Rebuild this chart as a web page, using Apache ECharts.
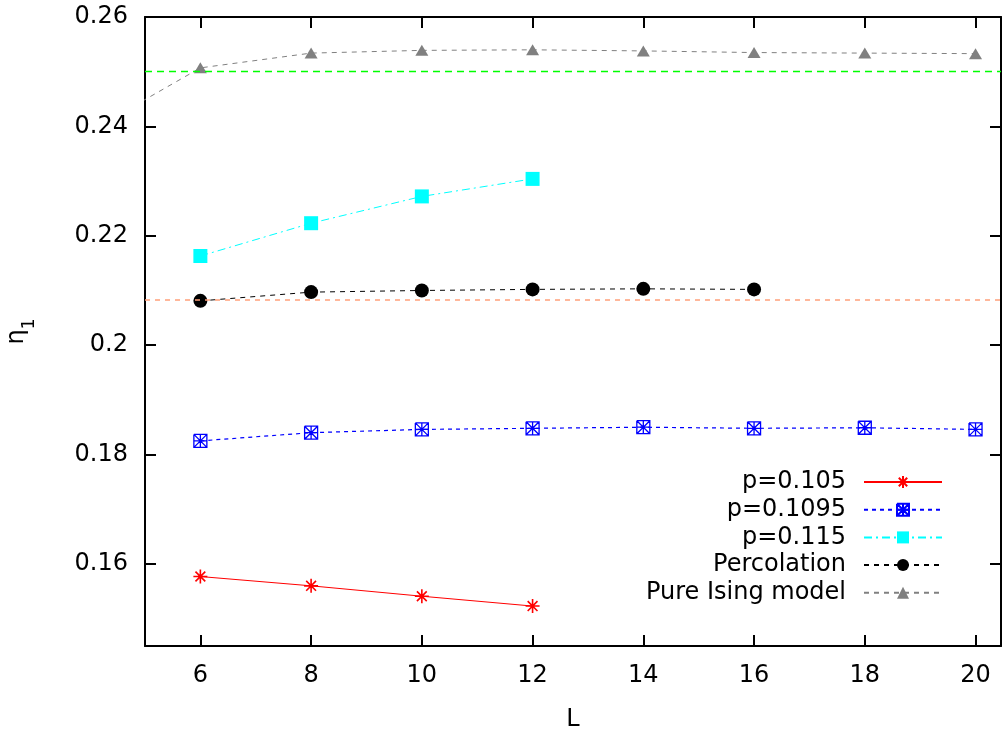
<!DOCTYPE html>
<html>
<head>
<meta charset="utf-8">
<script src="https://cdn.jsdelivr.net/npm/echarts@6/dist/echarts.min.js"></script>
<style>html,body{margin:0;padding:0;background:#fff}#c{width:1003px;height:731px}</style>
</head>
<body>
<div id="c"></div>
<script>
// ---- data ----
const xTicks = [6, 8, 10, 12, 14, 16, 18, 20];
const yTicks = [0.16, 0.18, 0.2, 0.22, 0.24, 0.26];

const L_p105 = [6, 8, 10, 12];
const eta_p105 = [0.1577, 0.1560, 0.1541, 0.1523];

const L_p1095 = [6, 8, 10, 12, 14, 16, 18, 20];
const eta_p1095 = [0.1825, 0.1840, 0.1846, 0.1848, 0.1850, 0.1848, 0.1849, 0.1846];

const L_p115 = [6, 8, 10, 12];
const eta_p115 = [0.2163, 0.2223, 0.2272, 0.2304];

const L_perc = [6, 8, 10, 12, 14, 16];
const eta_perc = [0.2081, 0.2097, 0.2100, 0.2102, 0.2103, 0.2102];

const L_ising = [4, 6, 8, 10, 12, 14, 16, 18, 20];
const eta_ising = [0.2391, 0.2507, 0.2534, 0.2539, 0.2540, 0.2538, 0.2535, 0.2534, 0.2533];

const eta_ising_exact = 0.25;
const eta_perc_exact = 0.2083;

const seriesNames = ['p=0.105', 'p=0.1095', 'p=0.115', 'Percolation', 'Pure Ising model'];

// ---- chart ----
const pairs = (xs, ys) => xs.map((x, i) => [x, ys[i]]);
const FONT = 'DejaVu Sans';
const xMin = 5, xMax = 20.46, yMin = 0.145, yMax = 0.26;

const asterisk = 'path://M0,5L10,5M5,0L5,10M1.5,1.5L8.5,8.5M8.5,1.5L1.5,8.5';
const boxAsterisk = 'path://M0,0L10,0L10,10L0,10L0,0M0,5L10,5M5,0L5,10M0,0L10,10M10,0L0,10';

const axisCommon = {
  axisLine: { show: true, onZero: false, lineStyle: { color: '#000', width: 2 } },
  splitLine: { show: false }
};

function refLine(value, color, width, dash) {
  return {
    name: 'ref' + value, type: 'line', data: [], silent: true, z: 4,
    markLine: {
      silent: true, symbol: ['none', 'none'], animation: false, precision: 6,
      label: { show: false },
      lineStyle: { color: color, width: width, type: dash },
      emphasis: { disabled: true },
      data: [{ yAxis: value }]
    }
  };
}

const chart = echarts.init(document.getElementById('c'), null, { renderer: 'canvas' });
chart.setOption({
  animation: false,
  backgroundColor: '#fff',
  grid: { left: 145, top: 17, right: 2, bottom: 85, containLabel: false, outerBoundsMode: 'none' },
  legend: {
    data: seriesNames,
    orient: 'vertical',
    align: 'right',
    right: 60,
    top: 470,
    padding: 0,
    itemWidth: 78,
    itemHeight: 15,
    itemGap: 3.7,
    textStyle: { fontFamily: FONT, fontSize: 24, color: '#000', padding: [0, 13, 0, 0] }
  },
  xAxis: [
    Object.assign({}, axisCommon, {
      type: 'value', min: xMin, max: xMax, position: 'bottom',
      name: 'L', nameLocation: 'middle', nameGap: 62,
      nameTextStyle: { fontFamily: FONT, fontSize: 24, color: '#000' },
      axisTick: { show: true, inside: true, length: 11, lineStyle: { color: '#000', width: 2 }, customValues: xTicks },
      axisLabel: { show: true, margin: 18, fontFamily: FONT, fontSize: 24, color: '#000', customValues: xTicks }
    }),
    Object.assign({}, axisCommon, {
      type: 'value', min: xMin, max: xMax, position: 'top',
      axisTick: { show: true, inside: true, length: 11, lineStyle: { color: '#000', width: 2 }, customValues: xTicks },
      axisLabel: { show: false }
    })
  ],
  yAxis: [
    Object.assign({}, axisCommon, {
      type: 'value', min: yMin, max: yMax, position: 'left',
      name: '{e|η}{s|1}', nameLocation: 'middle', nameGap: 116, nameRotate: 90,
      nameTextStyle: {
        fontFamily: FONT, color: '#000',
        rich: {
          e: { fontFamily: FONT, fontSize: 24, color: '#000' },
          s: { fontFamily: FONT, fontSize: 17, color: '#000', verticalAlign: 'bottom', padding: [0, 0, -9, 0] }
        }
      },
      axisTick: { show: true, inside: true, length: 11, lineStyle: { color: '#000', width: 2 }, customValues: yTicks },
      axisLabel: { show: true, margin: 17, fontFamily: FONT, fontSize: 24, color: '#000', customValues: yTicks }
    }),
    Object.assign({}, axisCommon, {
      type: 'value', min: yMin, max: yMax, position: 'right',
      axisTick: { show: true, inside: true, length: 11, lineStyle: { color: '#000', width: 2 }, customValues: yTicks },
      axisLabel: { show: false }
    })
  ],
  series: [
    {
      name: seriesNames[0], type: 'line', data: pairs(L_p105, eta_p105),
      symbol: asterisk, symbolSize: 14,
      itemStyle: { color: '#ff0000', borderColor: '#ff0000', borderWidth: 1.6 },
      lineStyle: { color: '#ff0000', width: 1, type: 'solid' }, z: 3
    },
    {
      name: seriesNames[1], type: 'line', data: pairs(L_p1095, eta_p1095),
      symbol: boxAsterisk, symbolSize: 13,
      itemStyle: { color: 'rgba(0,0,255,0)', borderColor: '#0000ff', borderWidth: 1.3 },
      lineStyle: { color: '#0000ff', width: 1.2, type: [4, 4] }, z: 3
    },
    {
      name: seriesNames[2], type: 'line', data: pairs(L_p115, eta_p115),
      symbol: 'rect', symbolSize: 14,
      itemStyle: { color: '#00ffff' },
      lineStyle: { color: '#00ffff', width: 1, type: [8, 4, 2, 4] }, z: 3
    },
    {
      name: seriesNames[3], type: 'line', data: pairs(L_perc, eta_perc),
      symbol: 'circle', symbolSize: 14,
      itemStyle: { color: '#000000' },
      lineStyle: { color: '#000000', width: 1, type: [5, 5] }, z: 3
    },
    {
      name: seriesNames[4], type: 'line', data: pairs(L_ising, eta_ising),
      symbol: 'triangle', symbolSize: [13, 11],
      itemStyle: { color: '#808080' },
      lineStyle: { color: '#808080', width: 1, type: [5, 5] }, z: 3,
      clip: true
    },
    refLine(eta_ising_exact, '#00ff00', 1.3, [7, 5]),
    refLine(eta_perc_exact, '#ffa07a', 1.6, [5, 5])
  ]
});
</script>
</body>
</html>
